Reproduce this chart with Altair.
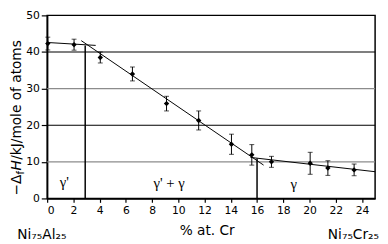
import altair as alt
import pandas as pd

# measured data points (% at. Cr, -ΔfH kJ/mol atoms, error)
cr = [0.05, 2.05, 4.05, 6.5, 9.1, 11.55, 14.05, 15.6, 17.1, 20.05, 21.4, 23.4]
dh = [42.3, 42.0, 38.5, 34.0, 25.9, 21.3, 14.8, 11.9, 10.0, 9.6, 8.3, 7.8]
err = [1.75, 1.5, 1.5, 1.9, 2.0, 2.6, 2.75, 2.8, 1.5, 3.0, 2.0, 1.6]

# fitted line segments (id, x, y)
seg_id = ["a", "a", "b", "b", "c", "c"]
seg_x = [0.0, 3.7, 2.6, 16.5, 15.5, 25.0]
seg_y = [42.6, 41.8, 43.1, 9.1, 11.2, 7.3]

# phase boundaries
bound_x = [2.9, 16.0]
bound_top = [41.8, 10.9]

# horizontal grid lines
grid_y = [10, 20, 30, 40]
grid_col = ["#8c8c8c", "black", "#8c8c8c", "black"]

# phase labels
phase_txt = ["γ'", "γ' + γ", "γ"]
phase_x = [1.3, 9.3, 18.8]
phase_y = [4.4, 4.3, 3.9]

x_ticks = list(range(0, 25, 2))
y_ticks = [0, 10, 20, 30, 40, 50]

pts = pd.DataFrame({"x": cr, "y": dh, "lo": [a - b for a, b in zip(dh, err)],
                    "hi": [a + b for a, b in zip(dh, err)]})
segs = pd.DataFrame({"id": seg_id, "x": seg_x, "y": seg_y})
bounds = pd.DataFrame({"x": bound_x, "y0": [0, 0], "y1": bound_top})
grid = pd.DataFrame({"y": grid_y, "c": grid_col})
phases = pd.DataFrame({"t": phase_txt, "x": phase_x, "y": phase_y})

xs = alt.Scale(domain=[0, 25], nice=False, zero=False)
ys = alt.Scale(domain=[0, 50], nice=False)
x_axis = alt.Axis(values=x_ticks, title=None, tickSize=4, labelPadding=2,
                  grid=False, labelOverlap=False)
y_axis = alt.Axis(values=y_ticks, title=None, tickSize=6, labelPadding=2,
                  grid=False, labelOverlap=False)


def XE(f):
    return alt.X(f, type="quantitative", scale=xs, axis=x_axis)


def YE(f):
    return alt.Y(f, type="quantitative", scale=ys, axis=y_axis)


gridl = alt.Chart(grid).mark_rule(strokeWidth=1.2).encode(
    y=YE("y"), color=alt.Color("c:N", scale=None))

lines = alt.Chart(segs).mark_line(color="black", strokeWidth=1).encode(
    x=XE("x"), y=YE("y"), detail="id:N")

bnd = alt.Chart(bounds).mark_rule(color="black", strokeWidth=1.5).encode(
    x=XE("x"), y=YE("y0"), y2="y1:Q")

ebar = alt.Chart(pts).mark_rule(color="black", strokeWidth=1).encode(
    x=XE("x"), y=YE("lo"), y2="hi:Q")
cap_lo = alt.Chart(pts).mark_tick(color="black", orient="horizontal", size=5,
                                  thickness=1).encode(x=XE("x"), y=YE("lo"))
cap_hi = alt.Chart(pts).mark_tick(color="black", orient="horizontal", size=5,
                                  thickness=1).encode(x=XE("x"), y=YE("hi"))
points = alt.Chart(pts).mark_point(shape="diamond", filled=True, color="black",
                                   size=30, opacity=1).encode(x=XE("x"), y=YE("y"))

ptxt = alt.Chart(phases).mark_text(font="Liberation Serif", fontSize=15,
                                   color="black", baseline="middle").encode(
    x=XE("x"), y=YE("y"), text="t:N")

bottom = pd.DataFrame({"t": ["Ni₇₅Al₂₅", "% at. Cr", "Ni₇₅Cr₂₅"],
                       "x": [-0.4, 12.2, 25.3], "y": [-9.9, -8.8, -9.9]})
btxt_c = alt.Chart(bottom.iloc[:2]).mark_text(font="DejaVu Sans", fontSize=14,
                                              color="black", baseline="middle").encode(
    x=XE("x"), y=YE("y"), text="t:N")
btxt_r = alt.Chart(bottom.iloc[2:]).mark_text(font="DejaVu Sans", fontSize=14,
                                              color="black", baseline="middle",
                                              align="right").encode(
    x=XE("x"), y=YE("y"), text="t:N")

# rotated y-axis title made of pieces (−Δ, subscript f, italic H, rest)
tx = -27
t1 = alt.Chart(pd.DataFrame({"t": ["−Δ"]})).mark_text(
    font="DejaVu Sans", fontSize=14, angle=270, align="left", baseline="alphabetic",
    color="black").encode(x=alt.value(tx), y=alt.value(184), text="t:N")
t2 = alt.Chart(pd.DataFrame({"t": ["f"]})).mark_text(
    font="DejaVu Sans", fontSize=10, angle=270, align="left", baseline="alphabetic",
    color="black").encode(x=alt.value(tx + 3), y=alt.value(162.5), text="t:N")
t3 = alt.Chart(pd.DataFrame({"t": ["H"]})).mark_text(
    font="DejaVu Sans", fontSize=14, fontStyle="italic", angle=270, align="left",
    baseline="alphabetic", color="black").encode(
    x=alt.value(tx), y=alt.value(158.5), text="t:N")
t4 = alt.Chart(pd.DataFrame({"t": ["/kJ/mole of atoms"]})).mark_text(
    font="DejaVu Sans", fontSize=14, angle=270, align="left", baseline="alphabetic",
    color="black").encode(x=alt.value(tx), y=alt.value(147.5), text="t:N")

chart = alt.layer(gridl, lines, bnd, ebar, cap_lo, cap_hi, points, ptxt,
                  btxt_c, btxt_r, t1, t2, t3, t4).properties(
    width=335, height=187,
    autosize=alt.AutoSizeParams(type="none"),
    padding={"left": 40, "top": 5, "right": 5, "bottom": 44},
    background="white",
).configure_view(stroke="black", strokeWidth=1.5).configure_axis(
    domainColor="black", domainWidth=1.5, tickColor="black", tickWidth=1.2,
    labelFont="DejaVu Sans", labelFontSize=11, labelColor="black",
    labelOverlap=False,
)

chart.save("out.html", embed_options={"renderer": "svg", "actions": False})
